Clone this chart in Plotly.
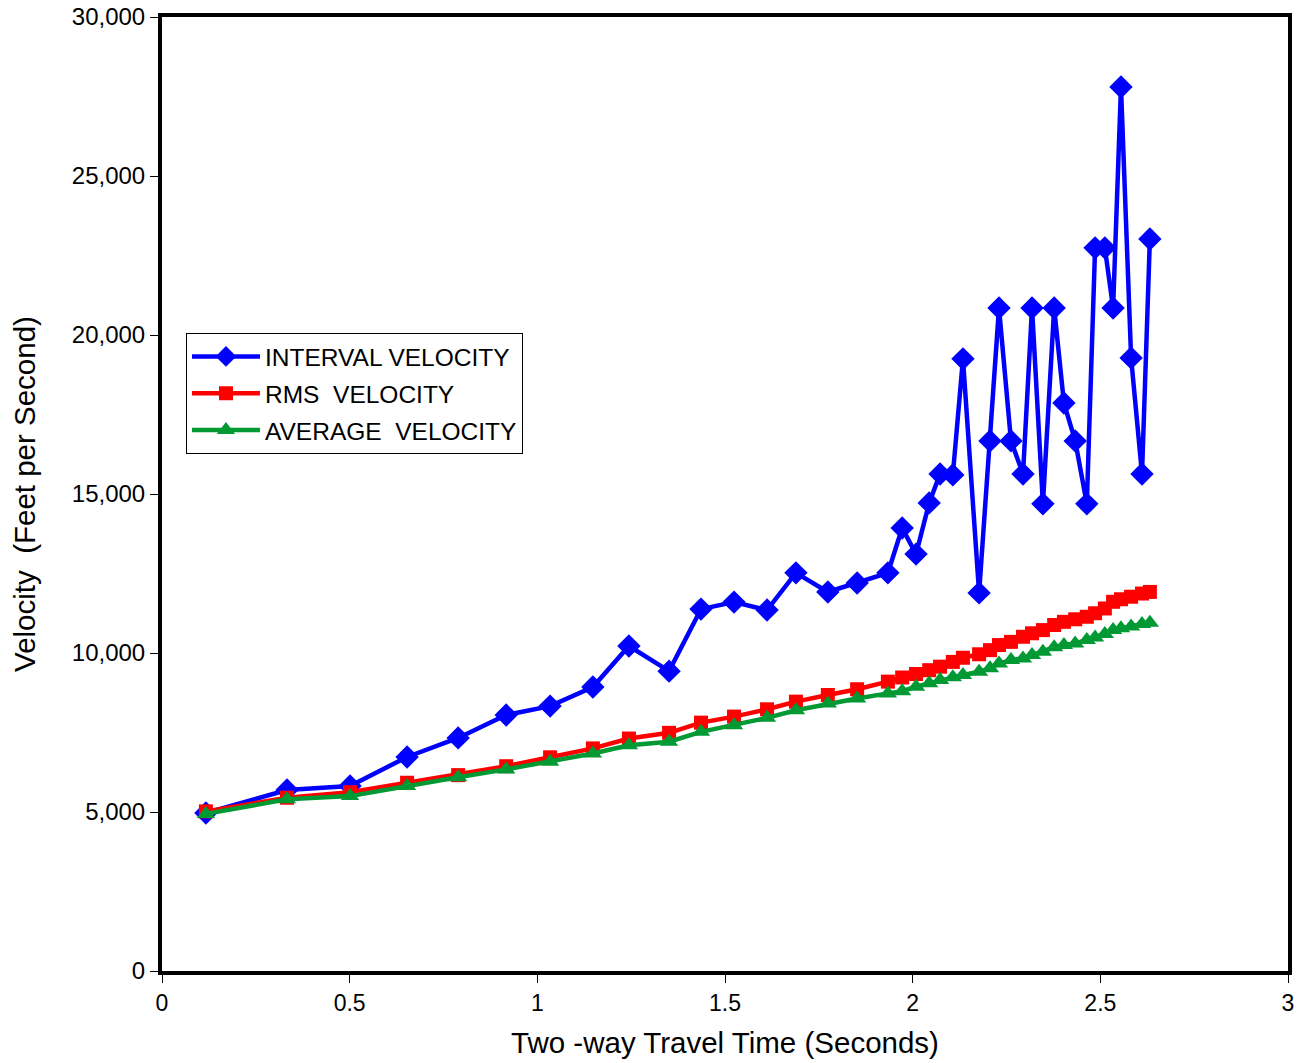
import plotly.graph_objects as go

time_s = [0.117, 0.333, 0.501, 0.653, 0.789, 0.917, 1.034, 1.148, 1.244, 1.351,
          1.436, 1.524, 1.612, 1.689, 1.774, 1.852, 1.934, 1.972, 2.009, 2.044,
          2.073, 2.107, 2.134, 2.177, 2.206, 2.230, 2.262, 2.294, 2.318, 2.347,
          2.377, 2.403, 2.433, 2.464, 2.486, 2.512, 2.534, 2.555, 2.582, 2.611, 2.632]

interval_velocity = [4970, 5690, 5820, 6730, 7330, 8050, 8330, 8930, 10220, 9430,
                     11380, 11600, 11350, 12520, 11920, 12200, 12520, 13930, 13110, 14720,
                     15630, 15600, 19250, 11890, 16670, 20850, 16670, 15630, 20850, 14690,
                     20850, 17860, 16670, 14690, 22740, 22740, 20850, 27800, 19280, 15630, 23020]

rms_velocity = [5020, 5450, 5620, 5920, 6160, 6440, 6720, 7000, 7310, 7490,
                7810, 8000, 8230, 8470, 8680, 8860, 9100, 9230, 9340, 9460,
                9570, 9720, 9850, 9960, 10090, 10250, 10350, 10510, 10620, 10720,
                10880, 10980, 11060, 11140, 11250, 11400, 11610, 11690, 11770, 11870, 11920]

average_velocity = [4940, 5400, 5500, 5820, 6090, 6340, 6580, 6840, 7100, 7210,
                    7520, 7730, 7960, 8200, 8410, 8570, 8730, 8800, 8940, 9050,
                    9150, 9240, 9310, 9410, 9520, 9670, 9780, 9830, 9940, 10040,
                    10180, 10250, 10300, 10410, 10490, 10600, 10720, 10780, 10830, 10910, 10950]

FONT = "Liberation Sans, Arial, sans-serif"

fig = go.Figure()
fig.add_trace(go.Scatter(x=time_s, y=interval_velocity, mode="lines+markers",
                         name="INTERVAL VELOCITY", legendgroup="a",
                         line=dict(color="#0000FF", width=4.5),
                         marker=dict(symbol="diamond", size=18, color="#0000FF")))
fig.add_trace(go.Scatter(x=time_s, y=rms_velocity, mode="lines+markers",
                         name="RMS  VELOCITY", legendgroup="b",
                         line=dict(color="#FF0000", width=4.5),
                         marker=dict(symbol="square", size=14, color="#FF0000")))
fig.add_trace(go.Scatter(x=time_s, y=average_velocity, mode="lines+markers",
                         name="AVERAGE  VELOCITY", legendgroup="c",
                         line=dict(color="#009933", width=4.5),
                         marker=dict(symbol="triangle-up", size=16, color="#009933")))

fig.update_layout(
    width=1307, height=1063,
    margin=dict(l=162, r=19, t=17, b=92, autoexpand=False),
    paper_bgcolor="white", plot_bgcolor="white",
    font=dict(family=FONT, color="black", size=24),
    showlegend=True,
    legend=dict(x=0.0213, y=0.6688, xanchor="left", yanchor="top",
                bgcolor="white", bordercolor="black", borderwidth=1,
                font=dict(size=24.5, family=FONT),
                tracegroupgap=2, itemwidth=68),
)
fig.update_xaxes(range=[0, 3], dtick=0.5, tick0=0, automargin=False,
                 showline=True, linecolor="black", linewidth=4, mirror=True,
                 ticks="outside", ticklen=8, tickwidth=1, tickcolor="black",
                 showgrid=False, zeroline=False, ticklabeloverflow="allow",
                 tickfont=dict(size=23, family=FONT),
                 title=dict(text="Two -way Travel Time (Seconds)", font=dict(size=29.5, family=FONT), standoff=19))
fig.update_yaxes(range=[0, 30000], dtick=5000, tickformat=",", automargin=False,
                 showline=True, linecolor="black", linewidth=4, mirror=True,
                 ticks="outside", ticklen=8, tickwidth=1, tickcolor="black",
                 showgrid=False, zeroline=False, ticklabeloverflow="allow",
                 tickfont=dict(size=24, family=FONT),
                 title=dict(text="Velocity  (Feet per Second)", font=dict(size=29.5, family=FONT), standoff=28))

fig.write_html("out.html", config={"displayModeBar": False},
               post_script="document.body.style.margin='0';document.body.style.overflow='hidden';")
